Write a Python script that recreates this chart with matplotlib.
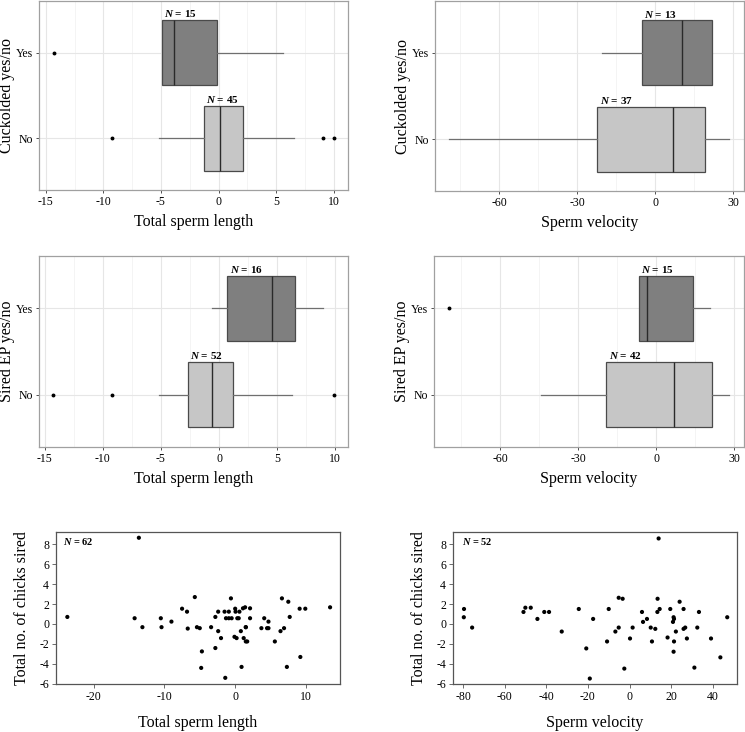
import matplotlib
matplotlib.use("Agg")
import matplotlib.pyplot as plt
import numpy as np

plt.rcParams['font.family'] = ['Liberation Serif', 'DejaVu Serif']
plt.rcParams['mathtext.fontset'] = 'custom'
plt.rcParams['mathtext.bfit'] = 'Liberation Serif:italic:bold'
plt.rcParams['mathtext.it'] = 'Liberation Serif:italic'
plt.rcParams['mathtext.rm'] = 'Liberation Serif'

# ---------------- data ----------------
categories = ["No", "Yes"]

# Box plot summaries: [whisker low, Q1, median, Q3, whisker high]
cuck_len_yes = [-4.95, -4.95, -3.9, -0.1, 5.6]
cuck_len_yes_out = [-14.3]
cuck_len_no = [-5.2, -1.3, 0.15, 2.1, 6.6]
cuck_len_no_out = [-9.3, 9.1, 10.0]
cuck_len_n = [45, 15]

cuck_vel_yes = [-20.6, -5.3, 10.1, 21.9, 21.9]
cuck_vel_yes_out = []
cuck_vel_no = [-79.4, -22.3, 6.9, 19.1, 28.5]
cuck_vel_no_out = []
cuck_vel_n = [37, 13]

ep_len_yes = [-0.6, 0.72, 4.6, 6.5, 8.97]
ep_len_yes_out = []
ep_len_no = [-5.2, -2.7, -0.63, 1.24, 6.3]
ep_len_no_out = [-14.3, -9.2, 9.9]
ep_len_n = [52, 16]

ep_vel_yes = [-6.8, -6.8, -3.5, 14.0, 20.8]
ep_vel_yes_out = [-79.8]
ep_vel_no = [-44.3, -19.2, 6.7, 21.5, 28.1]
ep_vel_no_out = []
ep_vel_n = [42, 15]

# scatter: total sperm length vs total chicks sired (N = 62)
len_x = [-23.7, -13.6, -14.2, -13.1, -10.5, -10.4, -9.0, -7.5, -6.8, -6.7,
         -5.7, -5.4, -5.0, -4.7, -4.8, -3.4, -2.8, -2.8, -2.4, -2.4,
         -2.0, -1.5, -1.3, -1.4, -0.9, -0.9, -0.6, -0.5, -0.1, 0.0,
         0.05, 0.2, 0.3, 0.5, 0.6, 0.8, 0.9, 1.1, 1.2, 1.4,
         1.5, 1.5, 1.7, 2.1, 2.1, 3.7, 4.1, 4.5, 4.7, 4.7,
         5.6, 6.4, 6.6, 6.9, 7.5, 7.3, 7.7, 9.1, 9.2, 9.9,
         13.4, 1.5]
len_y = [0.7, 8.67, 0.57, -0.33, 0.57, -0.33, 0.23, 1.53, 1.23, -0.47,
         2.7, -0.33, -0.43, -2.77, -4.43, -0.33, 0.7, -2.43, -0.73, 1.23,
         -1.43, 1.23, 0.57, -5.43, 0.57, 1.23, 2.57, 0.57, -1.3, 1.53,
         1.23, -1.43, 0.57, 0.57, 1.23, -0.73, -4.33, 1.57, -1.43, 1.67,
         -0.33, -1.77, -1.77, 1.57, 0.57, -0.43, 0.57, -0.43, 0.23, -0.43,
         -1.77, -0.73, 2.57, -0.43, 2.23, -4.33, 0.7, 1.53, -3.33, 1.53,
         1.67, -0.33]

# scatter: sperm velocity vs total chicks sired (N = 52)
vel_x = [-79.6, -79.7, -75.7, -51.0, -50.1, -47.5, -44.3, -41.0, -38.7, -32.6,
         -24.4, -20.8, -19.1, -17.5, -10.8, -10.0, -6.8, -5.2, -5.2, -3.3,
         -2.5, 0.24, 1.5, 6.0, 6.5, 8.4, 10.2, 10.8, 12.4, 13.4,
         13.5, 14.0, 14.5, 18.3, 19.6, 20.9, 21.2, 21.4, 21.4, 21.2,
         22.3, 24.1, 26.0, 26.0, 26.8, 27.6, 31.2, 32.6, 33.4, 39.2,
         43.7, 47.0]
vel_y = [1.5, 0.67, -0.37, 1.2, 1.63, 1.63, 0.5, 1.2, 1.2, -0.77,
         1.5, -2.47, -5.5, 0.5, -1.77, 1.5, -0.77, 2.63, -0.37, 2.53,
         -4.5, -1.47, -0.37, 1.2, 0.2, 0.5, -0.37, -1.77, -0.5, 1.2,
         2.53, 8.6, 1.5, -1.37, 1.5, 0.2, 0.67, 0.5, -1.77, -2.8,
         -0.77, 2.23, 1.5, -0.5, -0.37, -1.47, -4.4, -0.37, 1.2, -1.47,
         -3.37, 0.67]

# ---------------- figure ----------------
W, H = 745, 732
fig = plt.figure(figsize=(W / 100, H / 100), dpi=100)


def axes_px(l, t, r, b):
    return fig.add_axes([l / W, 1 - b / H, (r - l) / W, (b - t) / H])


FILL = {"Yes": "#7f7f7f", "No": "#c6c6c6"}
LABEL_FS = 11.5


def box_panel(ax, yes, yes_out, no, no_out, ns, xlim, xticks, xminor, xlabel, ylabel, ylab_x):
    stats = []
    for s, out, lab in [(no, no_out, "No"), (yes, yes_out, "Yes")]:
        stats.append(dict(whislo=s[0], q1=s[1], med=s[2], q3=s[3], whishi=s[4],
                          fliers=out, label=lab))
    ax.set_xlim(*xlim)
    ax.set_ylim(0.4, 2.6)
    for xv in xminor:
        ax.axvline(xv, color="#f2f2f2", lw=0.6, zorder=0)
    for xv in xticks:
        ax.axvline(xv, color="#e6e6e6", lw=0.8, zorder=0)
    for yv in [1, 2]:
        ax.axhline(yv, color="#e6e6e6", lw=0.8, zorder=0)
    bp = ax.bxp(stats, positions=[1, 2], widths=0.75, vert=False, patch_artist=True,
                showcaps=False,
                whiskerprops=dict(color="#6f6f6f", lw=0.9),
                medianprops=dict(color="#2a2a2a", lw=1.0),
                flierprops=dict(marker="o", markersize=1.8, markerfacecolor="black",
                                markeredgecolor="black"),
                boxprops=dict(edgecolor="#4a4a4a", lw=0.9))
    for patch, lab in zip(bp["boxes"], ["No", "Yes"]):
        patch.set_facecolor(FILL[lab])
    for pos, s, n in [(1, no, ns[0]), (2, yes, ns[1])]:
        ax.text(s[1] + (xlim[1] - xlim[0]) * 0.008, pos + 0.385, r"$\mathbfit{N}$ = %d" % n,
                fontsize=8, fontweight="bold", ha="left", va="bottom")
    ax.set_yticks([1, 2])
    ax.set_yticklabels(categories, fontsize=8.5)
    ax.set_xticks(xticks)
    ax.set_xticklabels([str(v) for v in xticks], fontsize=8.5)
    ax.tick_params(length=2.5, width=0.6, color="#333333", pad=2)
    for sp in ax.spines.values():
        sp.set_color("#a0a0a0")
        sp.set_linewidth(0.9)
    ax.set_xlabel(xlabel, fontsize=LABEL_FS, labelpad=4)
    ax.set_ylabel(ylabel, fontsize=LABEL_FS)
    ax.yaxis.set_label_coords(ylab_x, 0.5)


ax1 = axes_px(39, 1, 348, 190)
box_panel(ax1, cuck_len_yes, cuck_len_yes_out, cuck_len_no, cuck_len_no_out, cuck_len_n,
          (-15.6, 11.25), [-15, -10, -5, 0, 5, 10], [-12.5, -7.5, -2.5, 2.5, 7.5],
          "Total sperm length", "Cuckolded yes/no", -0.078)

ax2 = axes_px(435, 1, 744, 191)
box_panel(ax2, cuck_vel_yes, cuck_vel_yes_out, cuck_vel_no, cuck_vel_no_out, cuck_vel_n,
          (-84.8, 34.1), [-60, -30, 0, 30], [-75, -45, -15, 15],
          "Sperm velocity", "Cuckolded yes/no", -0.078)

ax3 = axes_px(39, 256, 348, 447)
box_panel(ax3, ep_len_yes, ep_len_yes_out, ep_len_no, ep_len_no_out, ep_len_n,
          (-15.5, 11.1), [-15, -10, -5, 0, 5, 10], [-12.5, -7.5, -2.5, 2.5, 7.5],
          "Total sperm length", "Sired EP yes/no", -0.078)

ax4 = axes_px(434, 256, 744, 447)
box_panel(ax4, ep_vel_yes, ep_vel_yes_out, ep_vel_no, ep_vel_no_out, ep_vel_n,
          (-85.4, 33.7), [-60, -30, 0, 30], [-75, -45, -15, 15],
          "Sperm velocity", "Sired EP yes/no", -0.078)


def scatter_panel(ax, x, y, xlim, xticks, xlabel, n, nx):
    ax.scatter(x, y, s=9, color="black", edgecolors="none", zorder=3)
    ax.set_xlim(*xlim)
    ax.set_ylim(-6.05, 9.25)
    ax.set_xticks(xticks)
    ax.set_xticklabels([str(v) for v in xticks], fontsize=8.5)
    ax.set_yticks([-6, -4, -2, 0, 2, 4, 6, 8])
    ax.set_yticklabels([str(v) for v in [-6, -4, -2, 0, 2, 4, 6, 8]], fontsize=8.5)
    ax.tick_params(length=3, width=0.6, color="#555555", pad=2)
    for sp in ax.spines.values():
        sp.set_color("#555555")
        sp.set_linewidth(0.9)
    ax.text(nx, 0.935, r"$\mathbfit{N}$ = %d" % n, transform=ax.transAxes,
            fontsize=7.5, fontweight="bold", ha="left", va="center")
    ax.set_xlabel(xlabel, fontsize=LABEL_FS, labelpad=9)
    ax.set_ylabel("Total no. of chicks sired", fontsize=LABEL_FS)
    ax.yaxis.set_label_coords(-0.092, 0.5)


ax5 = axes_px(56, 532, 340, 684)
scatter_panel(ax5, len_x, len_y, (-25.3, 14.8), [-20, -10, 0, 10], "Total sperm length", 62, 0.025)

ax6 = axes_px(453, 532, 737, 684)
scatter_panel(ax6, vel_x, vel_y, (-84.9, 51.7), [-80, -60, -40, -20, 0, 20, 40],
              "Sperm velocity", 52, 0.032)

fig.savefig("out.png", dpi=100)
